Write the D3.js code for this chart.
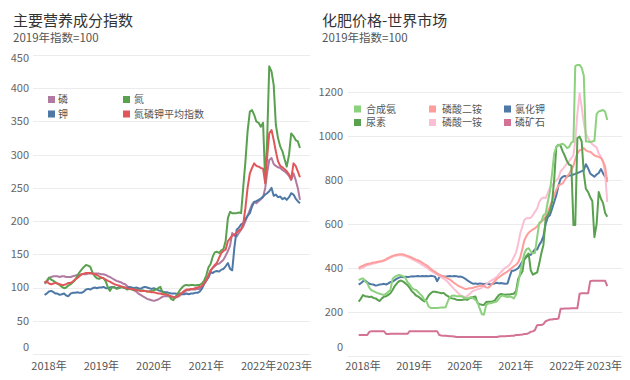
<!DOCTYPE html>
<html><head><meta charset="utf-8">
<script src="https://cdn.jsdelivr.net/npm/d3@7"></script>
<style>
body{margin:0;background:#fff;}
svg{display:block;font-family:"Noto Sans CJK SC","Noto Sans",sans-serif;}
</style></head><body>
<svg id="c" width="630" height="380"></svg>
<script>
// semi-monthly dates, Dec 2017 .. Oct 2022
const dates = d3.range(118).map(i => new Date(2017, 11 + Math.floor(i / 2), i % 2 ? 16 : 1));
const yearTicks = [2018, 2019, 2020, 2021, 2022, 2023];
const leftTicks = [0, 50, 100, 150, 200, 250, 300, 350, 400, 450];
const rightTicks = [0, 200, 400, 600, 800, 1000, 1200];

// ---- 主要营养成分指数 ----
const phosphorus = [106,108,114,116,117,117,117,116,117,117,
116,116,116,117,118,119,119,120,120,120,
121,121,121,121,121,121,120,120,119,117,
116,114,112,110,109,108,106,105,102,100,
98,96,94,91,89,87,85,83,82,81,
80,81,82,84,86,87,87,87,86,85,
85,86,88,91,93,96,96,97,97,97,
98,98,100,105,110,118,126,130,132,135,
136,139,142,148,155,163,182,178,177,182,
187,192,200,208,217,225,229,227,230,233,
236,250,272,292,295,286,283,281,280,277,
275,272,268,262,272,262,250,232];
const potassium = [89,91,94,95,93,91,91,89,90,91,
88,87,91,92,92,93,92,92,94,97,
98,97,99,100,99,100,100,101,99,99,
100,101,100,99,100,101,100,99,100,101,
100,99,100,99,98,100,101,100,99,98,
99,98,96,95,94,93,93,92,91,91,
91,90,91,90,90,91,90,91,91,92,
92,94,98,105,111,115,123,122,124,125,
124,127,128,132,137,128,126,160,187,190,
195,197,203,208,212,222,229,230,232,234,
237,240,242,245,250,238,240,236,237,233,
235,232,236,242,240,234,230,227];
const nitrogen = [107,110,115,112,110,108,106,104,101,99,
100,103,105,108,111,117,123,127,131,134,
133,131,122,117,114,113,115,114,109,100,
95,100,101,98,99,100,101,99,97,98,
97,96,97,96,95,96,95,94,94,95,
96,97,99,101,93,91,90,88,83,81,
86,91,96,100,103,104,103,104,104,103,
104,104,106,110,118,130,136,147,153,154,
152,156,158,170,205,214,212,212,212,213,
212,252,290,335,365,367,360,350,348,342,
348,258,320,433,425,405,345,325,312,305,
293,282,300,332,328,322,320,310];
const npkAverage = [108,109,106,105,106,107,106,105,104,104,
105,107,107,109,112,114,117,120,121,122,
122,122,121,120,119,117,115,114,112,110,
109,107,105,104,103,102,101,100,99,98,
98,97,96,96,95,95,95,94,94,93,
93,92,91,91,90,90,89,88,87,86,
85,87,90,92,95,97,97,98,98,99,
100,101,102,106,111,118,126,130,134,137,
145,152,155,157,170,174,178,180,183,186,
188,196,220,250,272,280,287,283,282,280,
279,257,295,332,337,322,305,290,283,281,
278,275,270,263,287,283,275,266];

// ---- 化肥价格-世界市场 ----
const ammonia = [345,350,353,340,330,310,300,295,290,286,
283,280,278,283,292,300,350,360,365,368,
366,362,355,335,325,310,303,300,290,280,
272,255,248,225,218,218,218,218,219,220,
220,222,250,268,274,275,272,272,272,270,
262,262,265,268,262,255,245,215,190,188,
232,238,240,242,245,248,262,272,275,270,
268,270,268,262,280,330,385,430,465,485,
490,475,467,468,540,605,612,640,648,700,
750,830,920,950,958,962,965,958,945,950,
970,975,1318,1323,1323,1310,1275,975,975,972,
975,978,1100,1112,1115,1118,1110,1073];
const urea = [247,260,277,272,270,268,270,264,262,255,
250,262,270,272,278,285,300,318,330,340,
343,338,330,322,310,295,285,275,270,262,
255,248,258,275,285,292,292,290,288,285,
287,278,272,265,262,260,256,255,255,256,
258,255,262,265,268,270,240,236,233,232,
245,247,247,248,252,265,278,282,280,278,
280,280,282,283,295,350,370,385,440,455,
466,390,370,375,380,420,467,505,626,640,
660,700,800,950,960,955,930,910,885,870,
865,595,595,990,997,975,830,760,745,722,
705,540,600,745,715,695,650,633];
const dap = [400,406,410,415,418,420,422,425,426,428,
430,432,435,440,446,450,455,458,460,462,
463,462,458,455,451,447,442,438,434,430,
424,418,412,405,396,388,382,376,370,366,
362,357,352,347,340,332,325,318,314,310,
305,305,308,308,310,314,316,318,320,318,
312,310,318,330,340,350,358,365,372,378,
384,392,400,408,415,425,450,490,525,545,
560,568,575,580,590,600,610,618,635,655,
680,705,730,755,775,780,785,800,815,828,
845,865,895,920,935,938,945,935,930,928,
920,912,908,905,900,885,860,790];
const map = [395,398,402,408,412,415,418,420,422,425,
428,430,433,437,442,447,452,455,457,458,
458,457,454,450,446,441,436,431,426,420,
414,408,402,395,388,382,376,370,364,358,
352,345,336,325,314,304,294,284,276,270,
268,272,280,290,296,300,304,306,310,318,
326,334,340,346,352,360,372,382,392,402,
406,415,430,450,470,510,560,590,618,626,
626,628,640,655,670,700,715,720,718,740,
765,775,790,798,810,840,850,862,875,885,
900,912,980,1100,1194,1130,1060,1010,990,975,
962,955,948,920,905,880,830,700];
const potash = [325,330,340,343,335,328,326,325,320,322,
325,326,328,325,330,336,338,345,352,356,
360,358,360,359,360,362,361,363,364,362,
364,363,364,362,365,363,360,340,358,361,
362,360,363,364,362,364,363,360,361,358,
352,345,338,332,328,330,327,330,328,326,
329,327,325,328,330,333,330,332,330,328,
330,360,388,388,393,399,415,430,440,450,
458,460,472,485,484,505,520,545,600,630,
641,670,700,730,775,805,815,818,815,820,
822,825,828,832,836,840,845,872,853,830,
822,815,825,832,850,830,815,805];
const phosphateRock = [95,95,95,96,96,110,112,112,112,112,
112,112,112,100,100,101,101,101,101,101,
101,101,101,101,113,113,113,113,113,113,
113,113,113,113,113,113,113,113,95,93,
92,92,91,90,90,89,86,86,86,86,
86,86,86,86,86,86,86,86,86,86,
86,86,86,86,86,86,89,90,90,90,
91,91,92,92,96,96,97,98,100,100,
104,110,112,118,140,141,141,145,158,162,
166,166,168,168,170,215,215,216,216,216,
217,217,217,217,283,285,285,285,285,340,
342,342,342,342,342,342,342,318];

const leftSeries = [
  {name: "磷", color: "#b07aa1", values: phosphorus},
  {name: "钾", color: "#4e79a7", values: potassium},
  {name: "氮", color: "#59a14f", values: nitrogen},
  {name: "氮磷钾平均指数", color: "#e15759", values: npkAverage}
];
const rightSeries = [
  {name: "磷矿石", color: "#d37295", values: phosphateRock},
  {name: "氯化钾", color: "#4e79a7", values: potash},
  {name: "磷酸一铵", color: "#fabfd2", values: map},
  {name: "磷酸二铵", color: "#ff9d9a", values: dap},
  {name: "尿素", color: "#59a14f", values: urea},
  {name: "合成氨", color: "#8cd17d", values: ammonia}
];

const svg = d3.select("#c");

function drawPanel(o) {
  const g = svg.append("g");
  const x = d3.scaleTime().domain([new Date(2018, 0, 1), new Date(2023, 0, 1)]).range(o.xRange);
  const y = d3.scaleLinear().domain(o.yDomain).range(o.yRange);

  g.append("text").attr("x", o.titleX).attr("y", 26).attr("font-size", 15).attr("fill", "#333").text(o.title);
  g.append("text").attr("x", o.titleX).attr("y", 42).attr("font-size", 11.5).attr("fill", "#555").text(o.subtitle);

  // gridlines
  g.selectAll(".grid").data(o.yTicks).join("line")
    .attr("x1", o.gridX[0]).attr("x2", o.gridX[1])
    .attr("y1", d => Math.round(y(d)) + 0.5).attr("y2", d => Math.round(y(d)) + 0.5)
    .attr("stroke", "#ececec").attr("stroke-width", 1);

  // y labels
  g.selectAll(".yl").data(o.yTicks).join("text")
    .attr("x", o.yLabelX).attr("y", d => Math.max(58, Math.min(347, y(d))))
    .attr("dy", "0.35em").attr("text-anchor", "end").attr("font-size", 11).attr("fill", "#666")
    .text(d => d);

  // x labels
  const xl = g.selectAll(".xl").data(yearTicks).join("text")
    .attr("y", 370).attr("text-anchor", "middle").attr("font-size", 11).attr("fill", "#555")
    .text(d => d + "年");
  xl.each(function(d) {
    const w = this.getComputedTextLength();
    let cx = x(new Date(d, 0, 1));
    if (cx + w / 2 > o.rightEdge) cx = o.rightEdge - w / 2;
    d3.select(this).attr("x", cx);
  });

  const line = d3.line().x((d, i) => x(dates[i])).y(d => y(d)).curve(d3.curveLinear);
  g.selectAll(".ln").data(o.series).join("path")
    .attr("d", s => line(s.values))
    .attr("fill", "none").attr("stroke", s => s.color)
    .attr("stroke-width", 2).attr("stroke-linejoin", "round");

  // legend
  const lg = g.selectAll(".lg").data(o.legend).join("g");
  lg.append("rect").attr("x", d => d.sx).attr("y", d => d.cy - 3.5).attr("width", 7).attr("height", 7)
    .attr("fill", d => o.series.find(s => s.name === d.name).color);
  lg.append("text").attr("x", d => d.tx).attr("y", d => d.cy).attr("dy", "0.35em")
    .attr("font-size", 10).attr("fill", "#555").text(d => d.name);
}

drawPanel({
  title: "主要营养成分指数", subtitle: "2019年指数=100", titleX: 13,
  xRange: [49, 311], yDomain: [0, 450], yRange: [354, 55],
  gridX: [33, 310], yTicks: leftTicks, yLabelX: 29, rightEdge: 312,
  series: leftSeries,
  legend: [
    {name: "磷", sx: 48, tx: 58, cy: 99.5},
    {name: "钾", sx: 48, tx: 58, cy: 114},
    {name: "氮", sx: 123, tx: 134, cy: 99.5},
    {name: "氮磷钾平均指数", sx: 123, tx: 134, cy: 114}
  ]
});

drawPanel({
  title: "化肥价格-世界市场", subtitle: "2019年指数=100", titleX: 322,
  xRange: [363, 618], yDomain: [0, 1200], yRange: [356, 92],
  gridX: [348, 622], yTicks: rightTicks, yLabelX: 343, rightEdge: 622,
  series: rightSeries,
  legend: [
    {name: "合成氨", sx: 354, tx: 366, cy: 109},
    {name: "尿素", sx: 354, tx: 366, cy: 122.5},
    {name: "磷酸二铵", sx: 429, tx: 442, cy: 109},
    {name: "磷酸一铵", sx: 429, tx: 442, cy: 122.5},
    {name: "氯化钾", sx: 504, tx: 515, cy: 109},
    {name: "磷矿石", sx: 504, tx: 515, cy: 122.5}
  ]
});
</script>
</body></html>
